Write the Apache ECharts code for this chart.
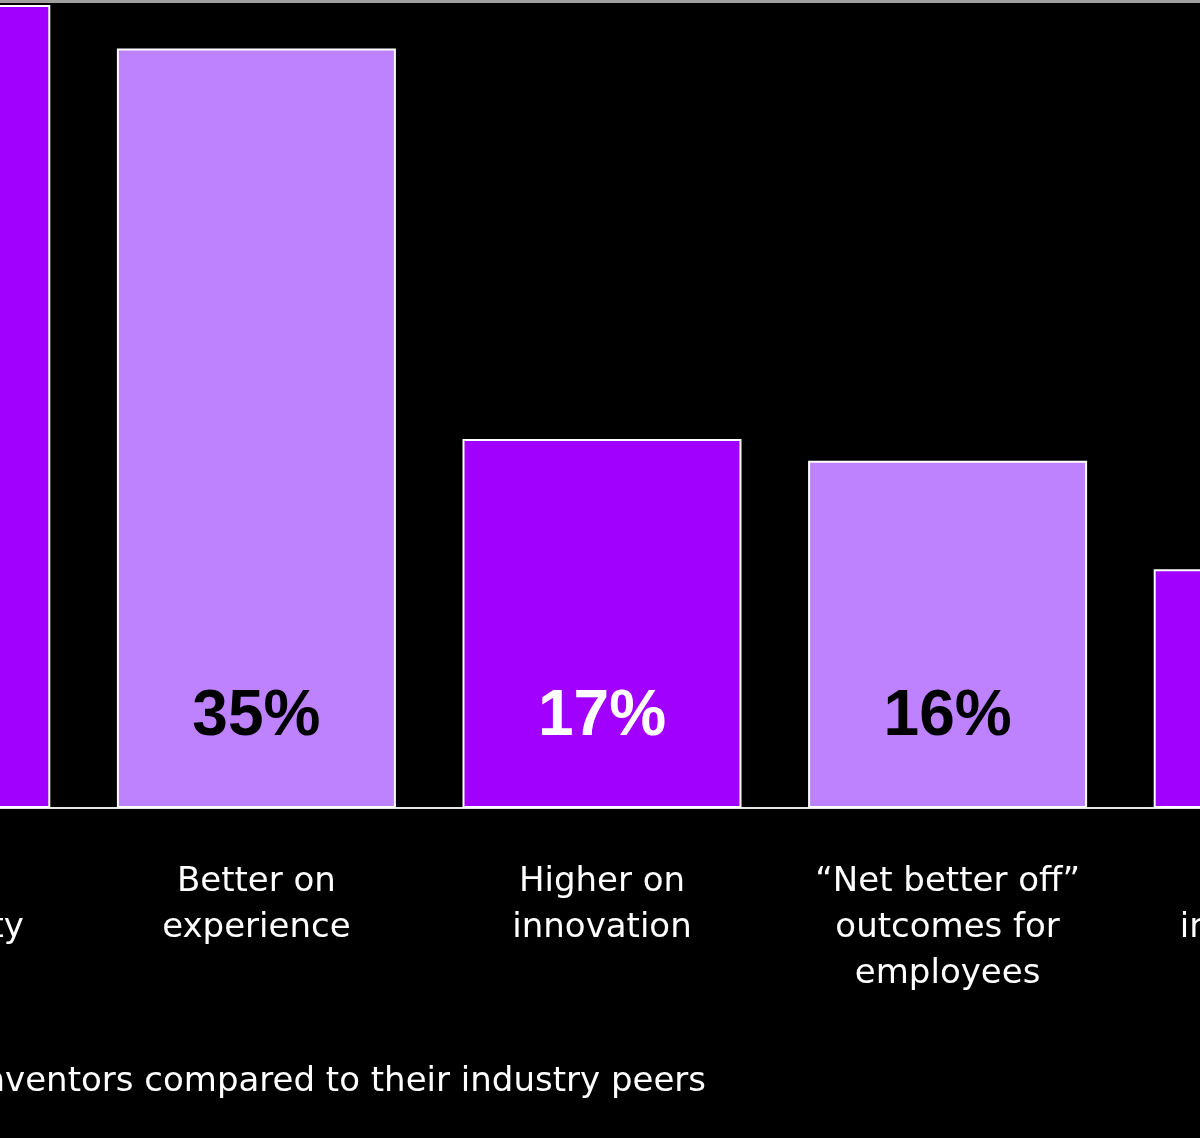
<!DOCTYPE html>
<html>
<head>
<meta charset="utf-8">
<script src="https://cdn.jsdelivr.net/npm/echarts@6/dist/echarts.min.js"></script>
<style>
html,body{margin:0;padding:0;background:#000;overflow:hidden;width:1200px;height:1138px;position:relative;}
#chart{position:absolute;left:-262px;top:-60px;width:1728px;height:1198px;}
</style>
</head>
<body>
<div id="chart"></div>
<script>
var categories = ['Higher on\nsustainability', 'Better on\nexperience', 'Higher on\ninnovation', '\u201cNet better off\u201d\noutcomes for\nemployees', 'Higher on\ninclusiveness'];
var values = [37, 35, 17, 16, 11];
var barColors = ['#a100ff', '#be82ff', '#a100ff', '#be82ff', '#a100ff'];
var labelColors = ['#ffffff', '#000000', '#ffffff', '#000000', '#ffffff'];
var footnote = 'Reinventors compared to their industry peers';

// the chart canvas is wider/taller than the window and offset so that the
// outer bars are cropped like in the reference
var OFFX = 262, OFFY = 60;

var chart = echarts.init(document.getElementById('chart'));
chart.setOption({
  backgroundColor: '#000000',
  animation: false,
  grid: { left: 0, right: 0, top: 0, bottom: 330, containLabel: false },
  xAxis: {
    type: 'category',
    data: categories,
    axisLine: { show: true, lineStyle: { color: '#e6e6e6', width: 2 } },
    axisTick: { show: false },
    axisLabel: {
      interval: 0,
      color: '#ffffff',
      fontFamily: 'DejaVu Sans',
      fontSize: 34,
      lineHeight: 46,
      margin: 51
    }
  },
  yAxis: {
    type: 'value',
    min: 0,
    max: 40,
    show: false,
    splitLine: { show: false }
  },
  series: [{
    type: 'bar',
    barWidth: 279,
    data: values.map(function (v, i) {
      return {
        value: v,
        itemStyle: { color: barColors[i], borderColor: '#ffffff', borderWidth: 2 },
        label: { color: labelColors[i] }
      };
    }),
    label: {
      show: true,
      position: 'insideBottom',
      distance: 59,
      formatter: '{c}%',
      fontFamily: 'Liberation Sans',
      fontWeight: 'bold',
      fontSize: 64
    }
  }],
  graphic: [
    { type: 'rect', shape: { x: OFFX, y: OFFY, width: 1200, height: 3 }, style: { fill: '#a0a0a0' }, z: 100 },
    { type: 'text', x: OFFX + 706, y: OFFY + 1082, style: { text: footnote, fill: '#ffffff', fontFamily: 'DejaVu Sans', fontSize: 34, textAlign: 'right', textVerticalAlign: 'middle' } }
  ]
});
</script>
</body>
</html>
